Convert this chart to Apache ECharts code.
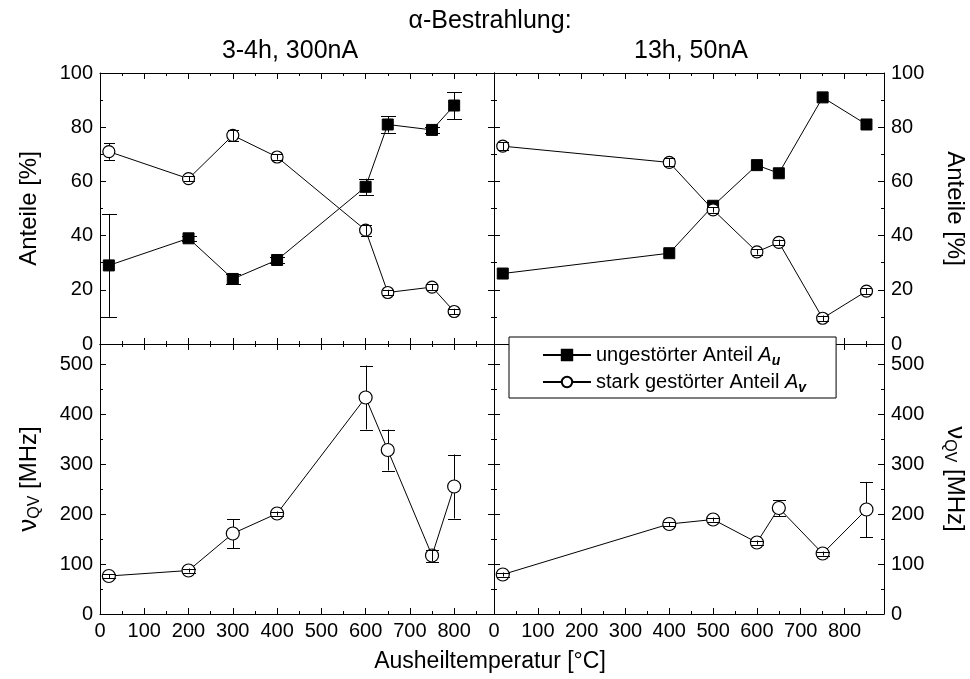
<!DOCTYPE html>
<html>
<head>
<meta charset="utf-8">
<script src="https://cdn.jsdelivr.net/npm/echarts@6/dist/echarts.min.js"></script>
<style>
  html, body { margin: 0; padding: 0; background: #fff; }
  #chart { width: 970px; height: 679px; }
</style>
</head>
<body>
<div id="chart"></div>
<script>
// left column: 3-4h, 300nA
const tempL = [20, 200, 300, 400, 600, 650, 750, 800];
const auL = [29, 39, 24, 31, 58, 81, 79, 88];
const auErrL = [19, 1, 2, 1, 3, 3, 1, 5];
const avL = [71, 61, 77, 69, 42, 19, 21, 12];
const avErrL = [3, 1, 2, 1, 2, 1, 1, 1];
const nuL = [76, 87, 161, 201, 433, 328, 117, 255];
const nuErrL = [4, 4, 29, 4, 64, 41, 12, 64];

// right column: 13h, 50nA
const tempR = [20, 400, 500, 600, 650, 750, 850];
const auR = [26, 33.5, 51, 66, 63, 91, 81];
const auErrR = [0, 0, 0, 0, 0, 0, 0];
const avR = [73, 67, 49.5, 34, 37.5, 9.5, 19.5];
const avErrR = [1.5, 1.5, 1, 1, 1, 1, 1];
const nuR = [79, 180, 189, 143, 212, 121, 209];
const nuErrR = [4, 4, 4, 4, 16, 4, 55];

const FONT = '"Liberation Sans", Arial, sans-serif';

const chart = echarts.init(document.getElementById('chart'));

const pairs = (xs, ys) => xs.map((x, i) => [x, ys[i]]);
const triples = (xs, ys, es) => xs.map((x, i) => [x, ys[i], es[i]]);

// grids: 0 TL, 1 TR, 2 BL, 3 BR
const grids = [
  { left: 100, top: 73, width: 394, height: 271 },
  { left: 494, top: 73, width: 394, height: 271 },
  { left: 100, top: 344, width: 394, height: 270 },
  { left: 494, top: 344, width: 394, height: 270 }
];

const tickStyle = { lineStyle: { color: '#000', width: 1 } };
const labelStyle = { color: '#000', fontSize: 20, fontFamily: FONT };

const xAxis = [];
const yAxis = [];
const nuName = '{n|ν}{s|QV} [MHz]';
grids.forEach((g, gi) => {
  const bottomRow = gi >= 2;
  ['bottom', 'top'].forEach(pos => {
    xAxis.push({
      type: 'value', gridIndex: gi, position: pos, min: 0, max: 890, interval: 100,
      axisLine: { show: true, onZero: false, lineStyle: { color: '#000', width: 1 } },
      axisTick: { show: true, inside: true, length: 6, ...tickStyle },
      minorTick: { show: true, splitNumber: 2, length: 3, ...tickStyle },
      splitLine: { show: false },
      axisLabel: {
        show: bottomRow && pos === 'bottom', showMaxLabel: false, margin: 7,
        ...labelStyle
      }
    });
  });
  ['left', 'right'].forEach(pos => {
    const isTop = gi < 2;
    const labelSide = (gi % 2 === 0) ? 'left' : 'right';
    const showName = pos === labelSide;
    yAxis.push({
      type: 'value', gridIndex: gi, position: pos, min: 0,
      max: isTop ? 100 : 540, interval: isTop ? 20 : 100,
      axisLine: { show: true, onZero: false, lineStyle: { color: '#000', width: 1 } },
      axisTick: { show: true, inside: true, length: 6, ...tickStyle },
      minorTick: { show: true, splitNumber: 2, length: 3, ...tickStyle },
      splitLine: { show: false },
      axisLabel: { show: showName, showMaxLabel: isTop, margin: 7, ...labelStyle },
      name: showName ? (isTop ? 'Anteile [%]' : nuName) : '',
      nameLocation: 'middle',
      nameGap: 57,
      nameRotate: pos === 'left' ? 90 : -90,
      nameTextStyle: {
        color: '#000', fontSize: 24, fontFamily: FONT, lineHeight: 28,
        rich: {
          n: { fontSize: 26, fontFamily: FONT, lineHeight: 28 },
          s: { fontSize: 16, fontFamily: FONT, lineHeight: 14, verticalAlign: 'bottom' }
        }
      }
    });
  });
});

function errRender(r, cap) {
  return function (params, api) {
    const x = api.value(0), y = api.value(1), e = api.value(2);
    if (!e) return { type: 'group', children: [] };
    const c = api.coord([x, y]);
    const hi = api.coord([x, y + e]);
    const lo = api.coord([x, y - e]);
    const px = Math.round(c[0]) + 0.5;
    const st = { stroke: '#000', lineWidth: 1, fill: null };
    const kids = [];
    if (c[1] - hi[1] > r) {
      kids.push({ type: 'line', shape: { x1: px, y1: hi[1], x2: px, y2: c[1] - r }, style: st });
      kids.push({ type: 'line', shape: { x1: px, y1: c[1] + r, x2: px, y2: lo[1] }, style: st });
    } else {
      kids.push({ type: 'line', shape: { x1: px, y1: hi[1], x2: px, y2: lo[1] }, style: st });
    }
    [hi[1], lo[1]].forEach(yy => {
      const yc = Math.round(yy) + 0.5;
      kids.push({ type: 'line', shape: { x1: px - cap / 2, y1: yc, x2: px + cap / 2, y2: yc }, style: st });
    });
    return { type: 'group', children: kids };
  };
}

function lineSeries(name, gi, data, symbol, size) {
  return {
    name: name, type: 'line', xAxisIndex: gi * 2, yAxisIndex: gi * 2,
    data: data, symbol: symbol, symbolSize: size, showAllSymbol: true,
    lineStyle: { color: '#000', width: 1 },
    itemStyle: symbol === 'rect'
      ? { color: '#000', borderColor: '#000', borderWidth: 1 }
      : { color: '#fff', borderColor: '#000', borderWidth: 1.2 },
    emphasis: { disabled: true },
    animation: false, z: 3
  };
}

function errSeries(gi, data, r, cap) {
  return {
    type: 'custom', xAxisIndex: gi * 2, yAxisIndex: gi * 2,
    data: data, renderItem: errRender(r, cap), silent: true,
    animation: false, z: 4
  };
}

const series = [
  lineSeries('Au', 0, pairs(tempL, auL), 'rect', 11),
  lineSeries('Av', 0, pairs(tempL, avL), 'circle', 12),
  errSeries(0, triples(tempL, auL, auErrL), 5.5, 15),
  errSeries(0, triples(tempL, avL, avErrL), 6, 11),
  lineSeries('Au', 1, pairs(tempR, auR), 'rect', 11),
  lineSeries('Av', 1, pairs(tempR, avR), 'circle', 12),
  errSeries(1, triples(tempR, auR, auErrR), 5.5, 15),
  errSeries(1, triples(tempR, avR, avErrR), 6, 11),
  lineSeries('Av', 2, pairs(tempL, nuL), 'circle', 13),
  errSeries(2, triples(tempL, nuL, nuErrL), 6.5, 13),
  lineSeries('Av', 3, pairs(tempR, nuR), 'circle', 13),
  errSeries(3, triples(tempR, nuR, nuErrR), 6.5, 13)
];

const legendText = {
  Au: 'ungestörter Anteil {i|A}{s|u}',
  Av: 'stark gestörter Anteil {i|A}{s|v}'
};

const option = {
  animation: false,
  grid: grids,
  xAxis: xAxis,
  yAxis: yAxis,
  series: series,
  legend: {
    data: ['Au', 'Av'],
    orient: 'vertical',
    left: 509, top: 337,
    padding: [5, 30, 3, 33],
    itemGap: 1,
    itemWidth: 48, itemHeight: 13,
    backgroundColor: '#fff',
    borderColor: '#000', borderWidth: 1,
    selectedMode: false,
    z: 10,
    formatter: name => legendText[name],
    textStyle: {
      color: '#000', fontSize: 20, fontFamily: FONT, lineHeight: 26,
      rich: {
        i: { fontSize: 20, fontFamily: FONT, fontStyle: 'italic', lineHeight: 26, color: '#000' },
        s: { fontSize: 14, fontFamily: FONT, fontStyle: 'italic', fontWeight: 'bold', lineHeight: 15, verticalAlign: 'bottom', color: '#000' }
      }
    }
  },
  graphic: [
    { type: 'text', x: 490, y: 21, style: { text: 'α-Bestrahlung:', font: '25px ' + FONT, fill: '#000', align: 'center', verticalAlign: 'middle' } },
    { type: 'text', x: 290, y: 51, style: { text: '3-4h, 300nA', font: '25px ' + FONT, fill: '#000', align: 'center', verticalAlign: 'middle' } },
    { type: 'text', x: 691, y: 51, style: { text: '13h, 50nA', font: '25px ' + FONT, fill: '#000', align: 'center', verticalAlign: 'middle' } },
    { type: 'text', x: 490, y: 662, style: { text: 'Ausheiltemperatur [°C]', font: '23px ' + FONT, fill: '#000', align: 'center', verticalAlign: 'middle' } }
  ]
};

chart.setOption(option);
</script>
</body>
</html>
